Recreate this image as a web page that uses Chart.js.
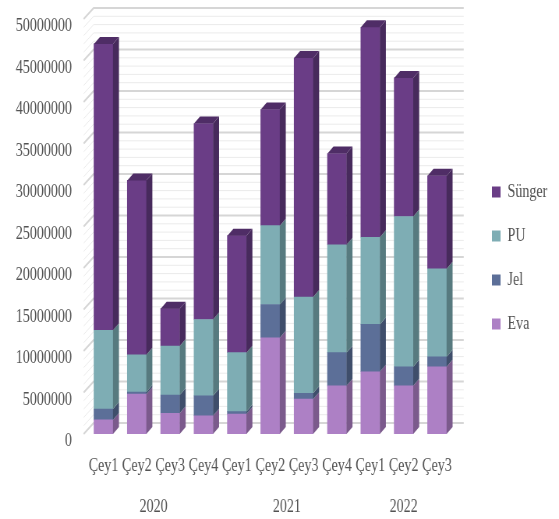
<!DOCTYPE html>
<html>
<head>
<meta charset="utf-8">
<script src="https://cdn.jsdelivr.net/npm/chart.js@4"></script>
<style>
    html, body { margin: 0; padding: 0; background: #fff; overflow: hidden; }
    #wrap { width: 717px; height: 519px; transform: scaleX(0.7796); transform-origin: 0 0; }
</style>
</head>
<body>
<div id="wrap"><canvas id="salesChart" width="717" height="519"></canvas></div>
<script>
// quarters and year groups
const quarterLabels = ['Çey1', 'Çey2', 'Çey3', 'Çey4', 'Çey1', 'Çey2', 'Çey3', 'Çey4', 'Çey1', 'Çey2', 'Çey3'];
const yearLabels = ['2020', '2021', '2022'];
const yearSizes = [4, 4, 3];

// series (bottom to top)
const evaValues    = [1700000, 4800000, 2500000, 2200000, 2400000, 11600000, 4200000, 5800000, 7500000, 5800000, 8100000];
const jelValues    = [1300000, 250000, 2200000, 2400000, 300000, 4000000, 700000, 4000000, 5700000, 2300000, 1200000];
const puValues     = [9500000, 4500000, 5900000, 9200000, 7100000, 9500000, 11600000, 13000000, 10500000, 18100000, 10600000];
const sungerValues = [34500000, 21000000, 4500000, 23600000, 14100000, 14000000, 28800000, 11000000, 25300000, 16700000, 11200000];

const TEXT_COLOR = '#535353';
const FONT_FAMILY = "'Liberation Serif', 'Times New Roman', serif";
const FONT_SIZE = 18;

// front / side / top shades for each series
const shades = {
    'Eva':    { front: '#ad80c5', side: '#7b5a8c', top: '#9470a8' },
    'Jel':    { front: '#5c6f98', side: '#3f4e6b', top: '#4d5e82' },
    'PU':     { front: '#7eadb4', side: '#577a7f', top: '#6a959b' },
    'Sünger': { front: '#6a3d86', side: '#472a5c', top: '#4f2d66' }
};

// ----------------------
// 3D helpers
// ----------------------
const BAR_DX = 7.7, BAR_DY = 7;
const WALL_DX = 12.8, WALL_DY = 11;

const backWall = {
    id: 'backWall',
    beforeDatasetsDraw(chart) {
        const { ctx, chartArea } = chart;
        const yScale = chart.scales.y;
        ctx.save();
        for (let v = 0; v <= 50000000; v += 1000000) {
            const y = yScale.getPixelForValue(v);
            const major = v % 5000000 === 0;
            ctx.strokeStyle = major ? '#d6d6d6' : '#ebebeb';
            ctx.lineWidth = major ? 2 : 1;
            ctx.beginPath();
            ctx.moveTo(chartArea.left - 4, y);
            ctx.lineTo(chartArea.left - 4 + WALL_DX, y - WALL_DY);
            ctx.lineTo(chartArea.right + WALL_DX, y - WALL_DY);
            ctx.stroke();
        }
        ctx.restore();
    }
};

const barFaces = {
    id: 'barFaces',
    afterDatasetsDraw(chart) {
        const { ctx } = chart;
        const metas = chart.getSortedVisibleDatasetMetas();
        ctx.save();
        metas.forEach((meta, di) => {
            const c = shades[chart.data.datasets[meta.index].label];
            meta.data.forEach(bar => {
                const { x, y, base, width } = bar.getProps(['x', 'y', 'base', 'width'], true);
                const r = x + width / 2, l = x - width / 2;
                ctx.fillStyle = c.side;
                ctx.beginPath();
                ctx.moveTo(r, y);
                ctx.lineTo(r + BAR_DX, y - BAR_DY);
                ctx.lineTo(r + BAR_DX, base - BAR_DY);
                ctx.lineTo(r, base);
                ctx.closePath();
                ctx.fill();
                if (di === metas.length - 1) {
                    ctx.fillStyle = c.top;
                    ctx.beginPath();
                    ctx.moveTo(l, y);
                    ctx.lineTo(l + BAR_DX, y - BAR_DY);
                    ctx.lineTo(r + BAR_DX, y - BAR_DY);
                    ctx.lineTo(r, y);
                    ctx.closePath();
                    ctx.fill();
                }
            });
        });
        ctx.restore();
    }
};

const yearRow = {
    id: 'yearRow',
    afterDraw(chart) {
        const { ctx } = chart;
        const xScale = chart.scales.x;
        ctx.save();
        ctx.font = FONT_SIZE + 'px ' + FONT_FAMILY;
        ctx.fillStyle = TEXT_COLOR;
        ctx.textAlign = 'center';
        ctx.textBaseline = 'middle';
        let start = 0;
        yearLabels.forEach((yr, i) => {
            const end = start + yearSizes[i] - 1;
            const cx = (xScale.getPixelForValue(start) + xScale.getPixelForValue(end)) / 2;
            ctx.fillText(yr, cx, 507);
            start = end + 1;
        });
        ctx.restore();
    }
};

// ----------------------
// Chart
// ----------------------
function makeDataset(label, values) {
    return {
        label: label,
        data: values,
        backgroundColor: shades[label].front,
        borderWidth: 0,
        barThickness: 24.4
    };
}

const ctx = document.getElementById('salesChart').getContext('2d');
new Chart(ctx, {
    type: 'bar',
    data: {
        labels: quarterLabels,
        datasets: [
            makeDataset('Eva', evaValues),
            makeDataset('Jel', jelValues),
            makeDataset('PU', puValues),
            makeDataset('Sünger', sungerValues)
        ]
    },
    options: {
        responsive: false,
        animation: false,
        layout: { padding: { top: 19, left: 0, right: 5, bottom: 0 } },
        scales: {
            x: {
                stacked: true,
                grid: { display: false, drawTicks: false },
                border: { display: false },
                ticks: { color: TEXT_COLOR, font: { family: FONT_FAMILY, size: FONT_SIZE }, padding: 21, maxRotation: 0, autoSkip: false },
                afterFit(scale) { scale.height = 85; scale.paddingLeft = 0; scale.paddingRight = 0; }
            },
            y: {
                stacked: true,
                min: 0,
                max: 50000000,
                grid: { display: false, drawTicks: false },
                border: { display: false },
                ticks: {
                    stepSize: 5000000,
                    color: TEXT_COLOR,
                    font: { family: FONT_FAMILY, size: FONT_SIZE },
                    padding: 19,
                    labelOffset: 7.5,
                    callback: v => String(v)
                },
                afterFit(scale) { scale.width = 111.3; scale.paddingTop = 0; scale.paddingBottom = 0; }
            },
            gap: {
                type: 'linear',
                position: 'right',
                min: 0,
                max: 1,
                grid: { display: false, drawTicks: false },
                border: { display: false },
                ticks: { display: false },
                afterFit(scale) { scale.width = 23; scale.paddingTop = 0; scale.paddingBottom = 0; }
            }
        },
        plugins: {
            legend: {
                position: 'right',
                align: 'start',
                reverse: true,
                maxWidth: 108,
                title: { display: true, text: '', font: { size: 12 }, padding: { top: 123.6, bottom: 0 } },
                labels: {
                    boxWidth: 11,
                    boxHeight: 11,
                    padding: 26,
                    color: TEXT_COLOR,
                    font: { family: FONT_FAMILY, size: FONT_SIZE }
                }
            },
            tooltip: { enabled: false }
        }
    },
    plugins: [backWall, barFaces, yearRow]
});
</script>
</body>
</html>
